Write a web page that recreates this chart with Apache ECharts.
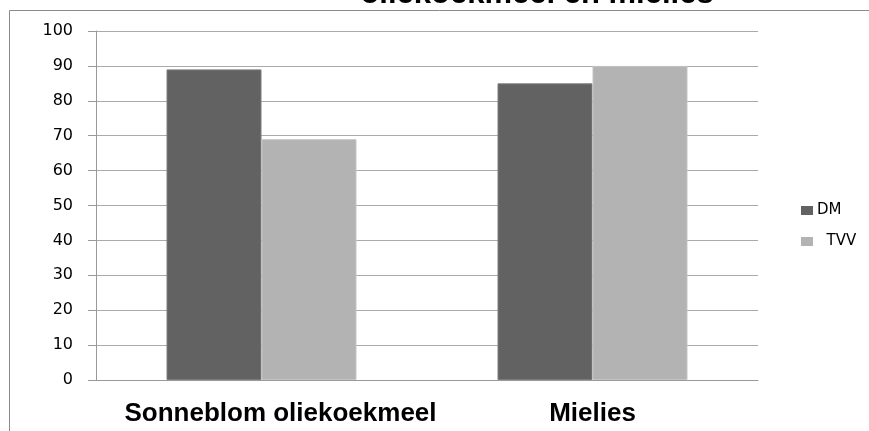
<!DOCTYPE html>
<html>
<head>
<meta charset="utf-8">
<script src="https://cdn.jsdelivr.net/npm/echarts@6/dist/echarts.min.js"></script>
<style>
  html, body { margin: 0; padding: 0; background: #fff; }
  #chart { width: 869px; height: 431px; }
</style>
</head>
<body>
<div id="chart"></div>
<script>
// categories and values
const categories = ["Sonneblom oliekoekmeel", "Mielies"];
const dmValues = [89, 85];
const tvvValues = [69, 90];
const titleText = "oliekoekmeel en mielies";

const chart = echarts.init(document.getElementById("chart"));

// the first label sits a little right of its category centre in the original
const labelShift = [38, 0];

chart.setOption({
  animation: false,
  title: {
    text: titleText,
    left: 532,
    top: -26,
    textAlign: "center",
    textStyle: {
      fontFamily: "Liberation Sans",
      fontWeight: "bold",
      fontSize: 31,
      color: "#000",
    },
  },
  graphic: [
    {
      type: "rect",
      shape: { x: 9.5, y: 10.5, width: 900, height: 450 },
      style: { fill: "none", stroke: "#8a8a8a", lineWidth: 1 },
      z: -1,
    },
  ],
  legend: {
    orient: "vertical",
    left: 796,
    top: 198,
    itemWidth: 12,
    itemHeight: 9,
    itemGap: 16,
    icon: "rect",
    itemStyle: { borderWidth: 0 },
    data: ["DM", "TVV"],
    formatter: (name) => (name === "TVV" ? "  " + name : name),
    textStyle: {
      fontFamily: "DejaVu Sans",
      fontSize: 15,
      color: "#000",
      padding: [0, 0, 0, -1],
    },
  },
  grid: {
    left: 96,
    right: 111,
    top: 31,
    bottom: 51,
  },
  xAxis: {
    type: "category",
    data: categories.map((name, i) => ({
      value: name,
      textStyle: { padding: [0, 0, 0, labelShift[i]] },
    })),
    axisLine: { lineStyle: { color: "#999" } },
    axisTick: { length: 6, lineStyle: { color: "#999" } },
    axisLabel: {
      interval: 0,
      margin: 21,
      color: "#000",
      fontFamily: "Liberation Sans",
      fontWeight: "bold",
      fontSize: 26,
    },
  },
  yAxis: {
    type: "value",
    min: 0,
    max: 100,
    interval: 10,
    axisLine: { show: true, lineStyle: { color: "#999" } },
    axisTick: { show: true, length: 8, lineStyle: { color: "#999" } },
    splitLine: { lineStyle: { color: "#aaa" } },
    axisLabel: {
      margin: 23,
      color: "#000",
      fontFamily: "DejaVu Sans",
      fontSize: 16,
    },
  },
  series: [
    {
      name: "DM",
      type: "bar",
      data: dmValues,
      barGap: "0%",
      barCategoryGap: "42.6%",
      itemStyle: { color: "#626262", borderColor: "#7c7c7c", borderWidth: 1 },
    },
    {
      name: "TVV",
      type: "bar",
      data: tvvValues,
      itemStyle: { color: "#b3b3b3", borderColor: "#c4c4c4", borderWidth: 1 },
    },
  ],
});
</script>
</body>
</html>
